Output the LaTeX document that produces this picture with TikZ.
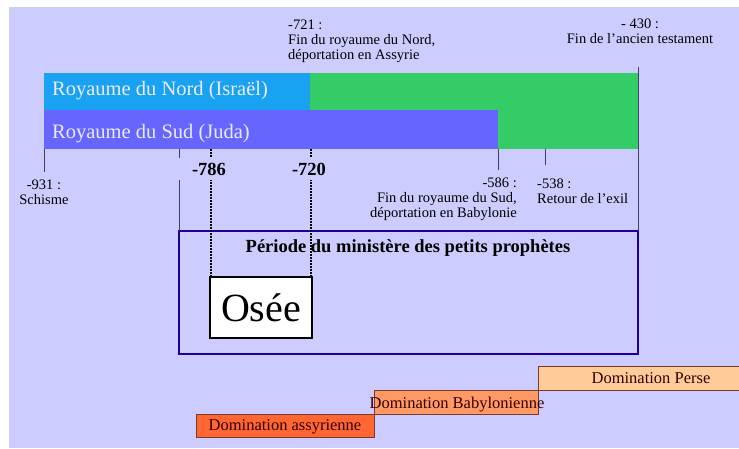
\documentclass[tikz,border=0pt]{standalone}
\usepackage{fontspec}
\setmainfont{Liberation Serif}
\usetikzlibrary{positioning}
\definecolor{fond}{HTML}{CCCCFF}
\definecolor{nord}{HTML}{1AA2F2}
\definecolor{sud}{HTML}{6666FF}
\definecolor{vert}{HTML}{33CC66}
\definecolor{cadre}{HTML}{1E0099}
\definecolor{trait}{HTML}{404060}
\definecolor{assyr}{HTML}{FF6633}
\definecolor{babyl}{HTML}{FF9966}
\definecolor{perse}{HTML}{FFCC99}
\definecolor{brun}{HTML}{7A3A2A}
\tikzstyle{datum} = [font=\fontsize{14.5}{15}\selectfont, inner sep=0pt]
\tikzstyle{royaume} = [font=\fontsize{20.5}{22}\selectfont, text=white!92!blue,
                 inner sep=0pt]
\tikzstyle{annee} = [font=\bfseries\fontsize{18.5}{20}\selectfont, fill=fond,
                 minimum width=64pt, inner ysep=5pt]
\tikzset{
	jalon/.style={draw=trait, line width=0.8pt},
	pointille/.style={draw=black, line width=1.5pt, dash pattern=on 1.5pt off 1.5pt},
	domination/.style={draw=brun, line width=0.8pt, anchor=north west,
		inner sep=0pt, outer sep=0pt},
	dtexte/.style={font=\fontsize{16.5}{18}\selectfont, text=black!80!red,
		inner sep=0pt},
}
\begin{document}
\begin{tikzpicture}[x=1pt,y=-1pt]

\fill[white] (0,0) rectangle (739,448);
\fill[fond] (9,7) rectangle (739,448);
\useasboundingbox (0,0) rectangle (739,448);

% royaumes
\fill[vert] (310,73) rectangle (638,149);
\fill[nord] (44,73) rectangle (310,110);
\fill[sud] (44,110) rectangle (498,149);
\node[royaume, anchor=base west] (israel) at (52,95) {Royaume du Nord (Israël)};
\node[royaume, anchor=base west] (juda) at (52,138) {Royaume du Sud (Juda)};

% cadre des prophetes
\node [draw=cadre, line width=2.5pt, anchor=north west, inner sep=0pt,
	outer sep=0pt, minimum width=459pt, minimum height=123pt] (periode)
	at (179,231) {};
\node [font=\bfseries\fontsize{18.5}{20}\selectfont, anchor=base] (titre)
	at (408,252) {Période du ministère des petits prophètes};
\node [draw=black, fill=white, line width=2.5pt, anchor=north west, inner sep=0pt,
	outer sep=0pt, minimum width=102pt, minimum height=61pt,
	font=\fontsize{40}{42}\selectfont] (osee) at (210,277) {Osée};

% jalons
\coordinate (j931) at (44,149);
\coordinate (b931) at (44,172);
\coordinate (j800) at (179,149);
\coordinate (j786) at (211,149);
\coordinate (j720) at (311,149);
\coordinate (j586) at (498,149);
\coordinate (b586) at (498,170);
\coordinate (j538) at (545,149);
\coordinate (b538) at (545,165);
\coordinate (j430) at (638,67);

\path [jalon] (j931) -- (b931);
\path [jalon] (j800) -- (periode.north west);
\path [jalon] (j586) -- (b586);
\path [jalon] (j538) -- (b538);
\path [jalon] (j430) -- (periode.north east);
\path [pointille] (j786) -- (j786 |- osee.north);
\path [pointille] (j720) -- (j720 |- osee.north);

\node [annee, anchor=base] (a786) at (209,175) {-786};
\node [annee, anchor=base] (a720) at (309,175) {-720};

% dates (ancre sur la derniere ligne)
\node [datum, align=left, anchor=base west] (d721) at (288,59)
	{-721 :\\Fin du royaume du Nord,\\déportation en Assyrie};
\node [datum, align=center, anchor=base] (d430) at (640,43)
	{- 430 :\\Fin de l’ancien testament};
\node [datum, align=center, anchor=base] (d931) at (44,204)
	{-931 :\\Schisme};
\node [datum, align=right, anchor=base east] (d586) at (517,217)
	{-586 :\\Fin du royaume du Sud,\\déportation en Babylonie};
\node [datum, align=left, anchor=base west] (d538) at (537,203)
	{-538 :\\Retour de l’exil};

% dominations
\node [domination, fill=assyr, minimum width=178pt, minimum height=23pt]
	(assyrie) at (196,414) {};
\node [domination, fill=babyl, minimum width=164pt, minimum height=24pt]
	(babylone) at (374,390) {};
\node [domination, fill=perse, minimum width=210pt, minimum height=24pt]
	(perse) at (538,366) {};
\node [dtexte, anchor=base] (tassyrie) at (285,430) {Domination assyrienne};
\node [dtexte, anchor=base] (tbabylone) at (457,408) {Domination Babylonienne};
\node [dtexte, anchor=base] (tperse) at (651,383) {Domination Perse};

\end{tikzpicture}
\end{document}
